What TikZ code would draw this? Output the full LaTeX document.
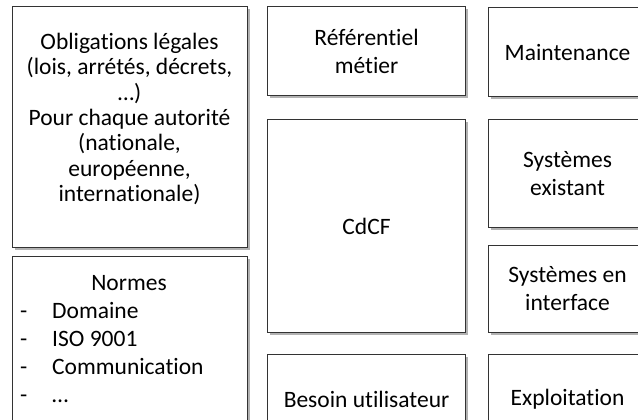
\documentclass[tikz,border=0pt]{standalone}
\usepackage{fontspec}
\setmainfont{Carlito}[Ligatures={NoCommon}]
\usetikzlibrary{shadows}
\begin{document}
\begin{tikzpicture}[x=1pt,y=-1pt,
  box/.style={draw=black!80, line width=1.1pt, fill=white, rectangle,
    inner sep=0pt, anchor=north west, align=center,
    font=\fontsize{23.5}{28}\selectfont,
    drop shadow={shadow xshift=2.5pt, shadow yshift=-2.5pt, fill=black, opacity=0.3}},
  lbl/.style={inner sep=0pt, anchor=base west, font=\fontsize{23.5}{28}\selectfont},
]
\useasboundingbox (0,0) rectangle (638,420);
\clip (0,0) rectangle (638,420);

% left column
\node[box, minimum width=235pt, minimum height=241pt] (oblig) at (12,6) {};
\node[inner sep=0pt, align=center, font=\fontsize{23.5}{25.4}\selectfont] (oblig-t) at (129.5,119)
  {Obligations légales\\(lois, arrétés, décrets,\\…)\\Pour chaque autorité\\(nationale,\\européenne,\\internationale)};
\node[box, minimum width=235pt, minimum height=241pt] (normes) at (12,256) {};
\node[lbl, anchor=base] (normes-t) at (129,290) {Normes};
\node[lbl] (d1) at (20,318) {-};
\node[lbl] (i1) at (52,318) {Domaine};
\node[lbl] (d2) at (20,346) {-};
\node[lbl] (i2) at (52,346) {ISO 9001};
\node[lbl] (d3) at (20,374) {-};
\node[lbl] (i3) at (52,374) {Communication};
\node[lbl] (d4) at (20,402) {-};
\node[lbl] (i4) at (52,402) {…};

% middle column
\node[box, minimum width=198pt, minimum height=89pt] (ref) at (267,6) {Référentiel\\métier};
\node[box, minimum width=198pt, minimum height=213pt] (cdcf) at (267,119) {CdCF};
\node[box, minimum width=198pt, minimum height=89pt] (besoin) at (267,354) {Besoin utilisateur};

% right column
\node[box, minimum width=158pt, minimum height=89pt] (maint) at (488,7) {Maintenance};
\node[box, minimum width=158pt, minimum height=108pt] (sysex) at (488,119) {Systèmes\\existant};
\node[box, minimum width=158pt, minimum height=87pt] (sysif) at (488,245) {Systèmes en\\interface};
\node[box, minimum width=158pt, minimum height=89pt] (exploit) at (488,354) {Exploitation};
\end{tikzpicture}
\end{document}
